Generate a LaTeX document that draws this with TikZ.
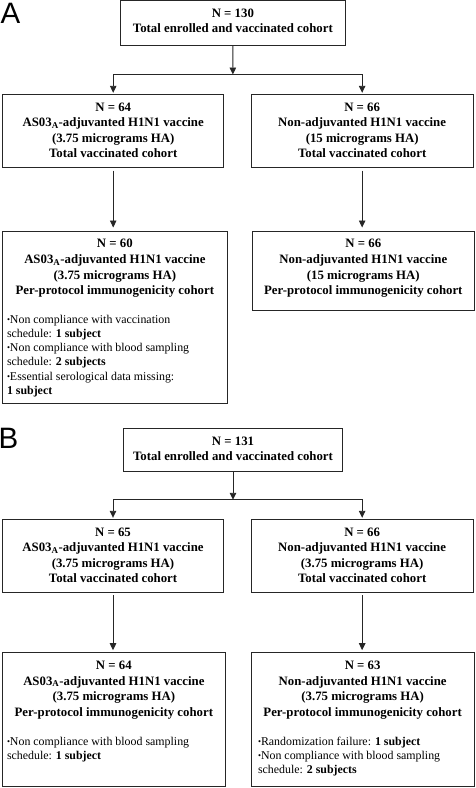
\documentclass[tikz,border=0pt]{standalone}
\usepackage{fontspec}
\setmainfont{Liberation Serif}
\newfontfamily\lblfont{Liberation Sans}
\usetikzlibrary{arrows.meta}
\newcommand{\hdr}{\fontsize{12.8}{15.6}\selectfont\bfseries}
\newcommand{\bul}{\fontsize{11.9}{14.2}\selectfont\mdseries}
\newcommand{\bdot}{\raisebox{1.0pt}{\scalebox{0.72}{\textbullet}}}
\newcommand{\firstline}{\rule{0pt}{16.8pt}}
\newcommand{\bx}[6]{\node[box] (#1) at ({(#2+#4)/2},{(#3+#5)/2})
  {\parbox[c][\dimexpr#5pt-#3pt\relax][t]{\dimexpr#4pt-#2pt\relax}{#6}};}
\tikzset{
  box/.style={draw=black!85, line width=0.9pt, inner sep=0pt, outer sep=0pt},
  conn/.style={draw=black!85, line width=0.9pt},
  arr/.style={conn, -{Triangle[width=6.5pt,length=7pt]}},
  panel/.style={font=\lblfont\fontsize{29.5}{30}\selectfont, inner sep=0pt, anchor=base west}
}
\begin{document}
\begin{tikzpicture}[x=1pt,y=-1pt]
\useasboundingbox (0,0) rectangle (475,788);
% ---------- Panel A ----------
\node[panel] (labA) at (0.5,23.3) {A};
\bx{AT}{120.7}{0.5}{345}{45.7}{\centering\hdr\firstline N = 130\\ Total enrolled and vaccinated cohort\par}
\bx{AL1}{2.7}{94.3}{223.7}{167.7}{\centering\hdr\firstline N = 64\\ AS03\textsubscript{A}-adjuvanted H1N1 vaccine\\ (3.75 micrograms HA)\\ Total vaccinated cohort\par}
\bx{AR1}{251}{94.3}{473.3}{167.7}{\centering\hdr\firstline N = 66\\ Non-adjuvanted H1N1 vaccine\\ (15 micrograms HA)\\ Total vaccinated cohort\par}
\bx{AL2}{2.7}{231}{227}{403.3}{\centering\hdr\firstline N = 60\\ AS03\textsubscript{A}-adjuvanted H1N1 vaccine\\ (3.75 micrograms HA)\\ Per-protocol immunogenicity cohort\par
  \vspace{14.5pt}\raggedright\leftskip=4.3pt\bul
  \bdot Non compliance with vaccination\\ schedule: \textbf{1 subject}\\
  \bdot Non compliance with blood sampling\\ schedule: \textbf{2 subjects}\\
  \bdot Essential serological data missing:\\ \textbf{1 subject}\par}
\bx{AR2}{252.3}{231}{474.3}{310}{\centering\hdr\firstline N = 66\\ Non-adjuvanted H1N1 vaccine\\ (15 micrograms HA)\\ Per-protocol immunogenicity cohort\par}
\coordinate (jA) at (232.85,74);
\draw[arr, shorten >=-0.5pt] (AT.south) -- (jA);
\draw[arr, shorten >=1.5pt] (jA) -| (AL1.north);
\draw[arr, shorten >=1.5pt] (jA) -| (AR1.north);
\draw[arr, shorten <=3pt, shorten >=3.5pt] (AL1.south) -- (AL1.south |- AL2.north);
\draw[arr, shorten <=3pt, shorten >=3.5pt] (AR1.south) -- (AR1.south |- AR2.north);
% ---------- Panel B ----------
\node[panel] (labB) at (-1.5,448.5) {B};
\bx{BT}{123.3}{428.3}{342.7}{471.7}{\centering\hdr\firstline N = 131\\ Total enrolled and vaccinated cohort\par}
\bx{BL1}{2.7}{519.3}{223.3}{592.7}{\centering\hdr\firstline N = 65\\ AS03\textsubscript{A}-adjuvanted H1N1 vaccine\\ (3.75 micrograms HA)\\ Total vaccinated cohort\par}
\bx{BR1}{251}{519.3}{473.3}{592.7}{\centering\hdr\firstline N = 66\\ Non-adjuvanted H1N1 vaccine\\ (3.75 micrograms HA)\\ Total vaccinated cohort\par}
\bx{BL2}{2.7}{652.7}{225}{786.7}{\centering\hdr\firstline N = 64\\ AS03\textsubscript{A}-adjuvanted H1N1 vaccine\\ (3.75 micrograms HA)\\ Per-protocol immunogenicity cohort\par
  \vspace{14.5pt}\raggedright\leftskip=4.3pt\bul
  \bdot Non compliance with blood sampling\\ schedule: \textbf{1 subject}\par}
\bx{BR2}{251}{652.7}{474.3}{786.7}{\centering\hdr\firstline N = 63\\ Non-adjuvanted H1N1 vaccine\\ (3.75 micrograms HA)\\ Per-protocol immunogenicity cohort\par
  \vspace{14.5pt}\raggedright\leftskip=7pt\bul
  \bdot Randomization failure: \textbf{1 subject}\\
  \bdot Non compliance with blood sampling\\ schedule: \textbf{2 subjects}\par}
\coordinate (jB) at (233,499.3);
\draw[arr, shorten >=-0.5pt] (BT.south) -- (jB);
\draw[arr, shorten >=1.5pt] (jB) -| (BL1.north);
\draw[arr, shorten >=1.5pt] (jB) -| (BR1.north);
\draw[arr, shorten <=2.5pt, shorten >=2.5pt] (BL1.south) -- (BL1.south |- BL2.north);
\draw[arr, shorten <=2.5pt, shorten >=2.5pt] (BR1.south) -- (BR1.south |- BR2.north);
\end{tikzpicture}
\end{document}
